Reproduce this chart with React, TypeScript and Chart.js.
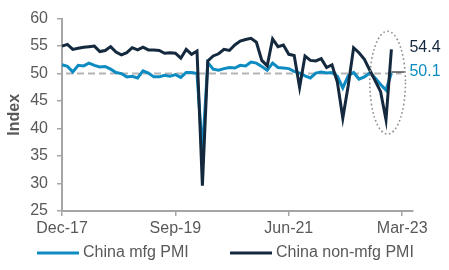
import React, { useEffect, useRef } from 'react';
import { Chart, registerables } from 'chart.js';

Chart.register(...registerables);

// ---- data ----
const MONTH_NAMES = ['Jan', 'Feb', 'Mar', 'Apr', 'May', 'Jun', 'Jul', 'Aug', 'Sep', 'Oct', 'Nov', 'Dec'];
const START_YEAR = 2017;
const START_MONTH = 11; // Dec
const AXIS_MONTHS = 66; // Dec-17 .. May-23

const xLabels: string[] = [];
for (let i = 0; i < AXIS_MONTHS; i++) {
  const m = (START_MONTH + i) % 12;
  const y = START_YEAR + Math.floor((START_MONTH + i) / 12);
  xLabels.push(`${MONTH_NAMES[m]}-${String(y % 100).padStart(2, '0')}`);
}

const tickLabels = ['Dec-17', 'Sep-19', 'Jun-21', 'Mar-23'];

const mfgPMI = [
  51.6,
  51.3, 50.3, 51.5, 51.4, 51.9, 51.5, 51.2, 51.3, 50.8, 50.2, 50.0, 49.4,
  49.5, 49.2, 50.5, 50.1, 49.4, 49.4, 49.7, 49.5, 49.8, 49.3, 50.2, 50.2,
  50.0, 35.7, 52.0, 50.8, 50.6, 50.9, 51.1, 51.0, 51.5, 51.4, 52.1, 51.9,
  51.3, 50.6, 51.9, 51.1, 51.0, 50.9, 50.4, 50.1, 49.6, 49.2, 50.1, 50.3,
  50.1, 50.2, 49.5, 47.4, 49.6, 50.2, 49.0, 49.4, 50.1, 49.2, 48.0, 47.0,
  50.1,
];

const nonMfgPMI = [
  55.0,
  55.3, 54.4, 54.6, 54.8, 54.9, 55.0, 54.0, 54.2, 54.9, 53.9, 53.4, 53.8,
  54.7, 54.3, 54.8, 54.3, 54.3, 54.2, 53.7, 53.8, 53.7, 52.8, 54.4, 53.5,
  54.1, 29.6, 52.3, 53.2, 53.6, 54.4, 54.2, 55.2, 55.9, 56.2, 56.4, 55.7,
  52.4, 51.4, 56.3, 54.9, 55.2, 53.5, 53.3, 47.5, 53.2, 52.4, 52.3, 52.7,
  51.1, 51.6, 48.4, 41.9, 47.8, 54.7, 53.8, 52.6, 50.6, 48.7, 46.7, 41.6,
  54.4,
];

const seriesNames = ['China mfg PMI', 'China non-mfg PMI'];
const THRESHOLD = 50;
const Y_MIN = 25;
const Y_MAX = 60;
const Y_STEP = 5;
// highlighted region (dotted ellipse): centre month index, value range
const HIGHLIGHT_X = 60.3;
const HIGHLIGHT_Y_TOP = 57.7;
const HIGHLIGHT_Y_BOTTOM = 39.0;
const HIGHLIGHT_HALF_WIDTH_MONTHS = 3.3;

// ---- style ----
const BLUE = '#0e8cc2';
const NAVY = '#14293e';
const TEXT = '#595959';
const AXIS = '#a6a6a6';
const FONT = '"Liberation Sans", Arial, sans-serif';

const overlayPlugin = {
  id: 'overlay',
  beforeDatasetsDraw(chart: any) {
    const { ctx, chartArea, scales } = chart;
    const y = scales.y.getPixelForValue(THRESHOLD);
    ctx.save();
    ctx.strokeStyle = '#b4b4b4';
    ctx.lineWidth = 2;
    ctx.setLineDash([7, 4]);
    ctx.beginPath();
    ctx.moveTo(chartArea.left + 4, y);
    ctx.lineTo(scales.x.getPixelForValue(mfgPMI.length - 1) + 10, y);
    ctx.stroke();
    ctx.restore();
  },
  afterDatasetsDraw(chart: any) {
    const { ctx, scales } = chart;
    const xs = scales.x;
    const ys = scales.y;
    ctx.save();
    // dotted ellipse
    const cx = xs.getPixelForValue(HIGHLIGHT_X);
    const x0 = xs.getPixelForValue(0);
    const x1 = xs.getPixelForValue(1);
    const rx = (x1 - x0) * HIGHLIGHT_HALF_WIDTH_MONTHS;
    const yt = ys.getPixelForValue(HIGHLIGHT_Y_TOP);
    const yb = ys.getPixelForValue(HIGHLIGHT_Y_BOTTOM);
    ctx.strokeStyle = '#8c8c8c';
    ctx.lineWidth = 1.6;
    ctx.setLineDash([1.6, 2.6]);
    ctx.beginPath();
    ctx.ellipse(cx, (yt + yb) / 2, rx, (yb - yt) / 2, 0, 0, Math.PI * 2);
    ctx.stroke();
    ctx.setLineDash([]);

    // end labels
    const lastIdx = mfgPMI.length - 1;
    const lx = xs.getPixelForValue(lastIdx);
    const mfgLast = mfgPMI[lastIdx];
    const nonLast = nonMfgPMI[nonMfgPMI.length - 1];
    const yMfg = ys.getPixelForValue(mfgLast);
    const yNon = ys.getPixelForValue(nonLast);
    ctx.strokeStyle = '#222';
    ctx.lineWidth = 1.2;
    ctx.beginPath();
    ctx.moveTo(lx, yMfg - 1);
    ctx.lineTo(lx + 13, yMfg - 1);
    ctx.stroke();

    ctx.font = `16px ${FONT}`;
    ctx.textBaseline = 'middle';
    ctx.textAlign = 'left';
    ctx.fillStyle = NAVY;
    ctx.fillText(nonLast.toFixed(1), lx + 18, yNon - 2);
    ctx.fillStyle = BLUE;
    ctx.fillText(mfgLast.toFixed(1), lx + 18, yMfg - 1);
    ctx.restore();
  },
  afterDraw(chart: any) {
    const { ctx } = chart;
    const y = 253;
    const items = [
      { name: seriesNames[0], color: BLUE, x: 37 },
      { name: seriesNames[1], color: NAVY, x: 230 },
    ];
    ctx.save();
    ctx.font = `16px ${FONT}`;
    ctx.textBaseline = 'middle';
    ctx.textAlign = 'left';
    for (const it of items) {
      ctx.strokeStyle = it.color;
      ctx.lineWidth = 3;
      ctx.beginPath();
      ctx.moveTo(it.x, y);
      ctx.lineTo(it.x + 42, y);
      ctx.stroke();
      ctx.fillStyle = TEXT;
      ctx.fillText(it.name, it.x + 46, y);
    }
    ctx.restore();
  },
};

export default function App() {
  const ref = useRef<HTMLCanvasElement | null>(null);

  useEffect(() => {
    if (!ref.current) return;
    const chart = new Chart(ref.current, {
      type: 'line',
      data: {
        labels: xLabels,
        datasets: [
          {
            label: seriesNames[0],
            data: mfgPMI,
            borderColor: BLUE,
            backgroundColor: BLUE,
            borderWidth: 3,
            pointRadius: 0,
            tension: 0,
            order: 1,
          },
          {
            label: seriesNames[1],
            data: nonMfgPMI,
            borderColor: NAVY,
            backgroundColor: NAVY,
            borderWidth: 3,
            pointRadius: 0,
            tension: 0,
            order: 0,
          },
        ],
      },
      options: {
        animation: false,
        responsive: false,
        maintainAspectRatio: false,
        layout: { padding: { left: 0, right: 36, top: 12, bottom: 32 } },
        plugins: {
          legend: { display: false },
          tooltip: { enabled: false },
        },
        scales: {
          x: {
            type: 'category',
            offset: false,
            grid: {
              drawOnChartArea: false,
              tickLength: 5,
              lineWidth: 1.5,
              color: (c: any) => (tickLabels.includes(xLabels[c.index]) ? AXIS : 'rgba(0,0,0,0)'),
            },
            border: { color: AXIS, width: 2 },
            ticks: {
              autoSkip: false,
              maxRotation: 0,
              minRotation: 0,
              padding: 3,
              color: TEXT,
              font: { family: FONT, size: 16 },
              callback: (_v: any, i: number) => (tickLabels.includes(xLabels[i]) ? xLabels[i] : ''),
            },
            afterFit: (s: any) => {
              s.height = 27;
            },
          },
          y: {
            min: Y_MIN,
            max: Y_MAX,
            grid: { drawOnChartArea: false, tickLength: 5, color: AXIS, lineWidth: 1.5 },
            border: { color: AXIS, width: 2 },
            ticks: {
              stepSize: Y_STEP,
              padding: 9,
              color: TEXT,
              font: { family: FONT, size: 16 },
            },
            title: {
              display: true,
              text: 'Index',
              color: TEXT,
              font: { family: FONT, size: 16, weight: 'bold' },
              padding: { top: 5, bottom: 0 },
            },
            afterFit: (s: any) => {
              s.width = 62;
            },
          },
        },
      },
      plugins: [overlayPlugin],
    });
    return () => chart.destroy();
  }, []);

  return (
    <div style={{ position: 'fixed', left: 0, top: 0, width: 449, height: 270, background: '#fff' }}>
      <canvas ref={ref} width={449} height={270} style={{ width: 449, height: 270, display: 'block' }} />
    </div>
  );
}
